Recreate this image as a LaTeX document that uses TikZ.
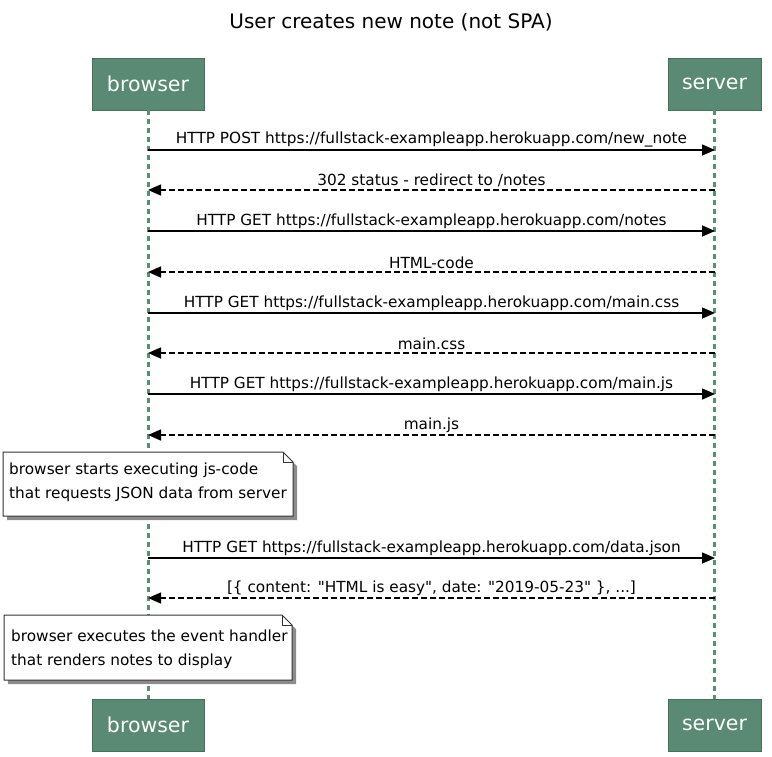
\documentclass[tikz,border=0pt]{standalone}
\usepackage{fontspec}
\setmainfont{DejaVu Sans}
\usetikzlibrary{arrows.meta,calc}
\definecolor{actorgreen}{HTML}{5A8A73}
\definecolor{linegreen}{HTML}{5A8F75}
\definecolor{notegray}{HTML}{333333}
\newcommand\dq{\XeTeXglyph\XeTeXcharglyph"22\relax}
\tikzset{
  actorbox/.style={fill=actorgreen, draw=actorgreen!80!black, line width=0.6pt, minimum width=#1, minimum height=52pt, inner sep=0pt, text=white, font=\fontsize{20.5}{22}\selectfont},
  lifeline/.style={draw=linegreen, line width=3pt, dash pattern=on 5pt off 4pt},
  msg/.style={line width=1.6pt, -{Triangle[length=13pt,width=11pt]}},
  reply/.style={line width=1.6pt, dash pattern=on 6pt off 3pt, -{Triangle[length=13pt,width=11pt]}},
  lbl/.style={font=\fontsize{15.3}{17}\selectfont, above, inner sep=1pt, yshift=1pt},
  notetext/.style={font=\fontsize{15.3}{24}\selectfont, align=left, inner sep=0pt, anchor=north west},
  noteline/.style={draw=notegray, fill=white, line width=1pt},
  noteshadow/.style={fill=black!45, draw=none}
}
\begin{document}
\begin{tikzpicture}[x=1pt,y=-1pt]
\useasboundingbox (0,0) rectangle (772,756);
\node[font=\fontsize{20}{22}\selectfont] (title) at (391,22) {User creates new note (not SPA)};
% actors
\node[actorbox=112pt] (bt) at (148,84) {browser};
\node[actorbox=93pt] (st) at (714.5,84) {server};
\node[actorbox=112pt] (bb) at (148,725) {browser};
\node[actorbox=93pt] (sb) at (714.5,725) {server};
\draw[lifeline] (bt.south) -- (bb.north);
\draw[lifeline] (st.south) -- (sb.north);
% message coordinates
\foreach \i/\y in {1/150,2/190,3/231,4/272,5/313,6/353,7/394,8/435,9/558,10/598}{
  \coordinate (b\i) at (148,\y);
  \coordinate (s\i) at (715,\y);
}
\draw[msg] (b1) -- (s1) node[lbl, midway] {HTTP POST https://fullstack-exampleapp.herokuapp.com/new\_note};
\draw[reply] (s2) -- (b2) node[lbl, midway] {302 status - redirect to /notes};
\draw[msg] (b3) -- (s3) node[lbl, midway] {HTTP GET https://fullstack-exampleapp.herokuapp.com/notes};
\draw[reply] (s4) -- (b4) node[lbl, midway] {HTML-code};
\draw[msg] (b5) -- (s5) node[lbl, midway] {HTTP GET https://fullstack-exampleapp.herokuapp.com/main.css};
\draw[reply] (s6) -- (b6) node[lbl, midway] {main.css};
\draw[msg] (b7) -- (s7) node[lbl, midway] {HTTP GET https://fullstack-exampleapp.herokuapp.com/main.js};
\draw[reply] (s8) -- (b8) node[lbl, midway] {main.js};
\draw[msg] (b9) -- (s9) node[lbl, midway] {HTTP GET https://fullstack-exampleapp.herokuapp.com/data.json};
\draw[reply] (s10) -- (b10) node[lbl, midway] {[\{ content: \dq HTML is easy\dq, date: \dq 2019-05-23\dq{} \}, ...]};
% note 1
\coordinate (n1a) at (3,452);
\coordinate (n1b) at (293,516);
\fill[noteshadow] ($(n1a)+(4,4)$) -- ($(n1b|-n1a)+(-6,4)$) -- ($(n1b|-n1a)+(4,14)$) -- ($(n1b)+(4,4)$) -- ($(n1a|-n1b)+(4,4)$) -- cycle;
\draw[noteline] (n1a) -- ($(n1b|-n1a)+(-10,0)$) -- ($(n1b|-n1a)+(0,10)$) -- (n1b) -- (n1a|-n1b) -- cycle;
\draw[draw=notegray, line width=1pt] ($(n1b|-n1a)+(-10,0)$) -- ($(n1b|-n1a)+(-10,10)$) -- ($(n1b|-n1a)+(0,10)$);
\node[notetext] (note1) at (9,463) {browser starts executing js-code\\that requests JSON data from server};
% note 2
\coordinate (n2a) at (4,615);
\coordinate (n2b) at (292,680);
\fill[noteshadow] ($(n2a)+(4,4)$) -- ($(n2b|-n2a)+(-6,4)$) -- ($(n2b|-n2a)+(4,14)$) -- ($(n2b)+(4,4)$) -- ($(n2a|-n2b)+(4,4)$) -- cycle;
\draw[noteline] (n2a) -- ($(n2b|-n2a)+(-10,0)$) -- ($(n2b|-n2a)+(0,10)$) -- (n2b) -- (n2a|-n2b) -- cycle;
\draw[draw=notegray, line width=1pt] ($(n2b|-n2a)+(-10,0)$) -- ($(n2b|-n2a)+(-10,10)$) -- ($(n2b|-n2a)+(0,10)$);
\node[notetext] (note2) at (11,630) {browser executes the event handler\\that renders notes to display};
\end{tikzpicture}
\end{document}
